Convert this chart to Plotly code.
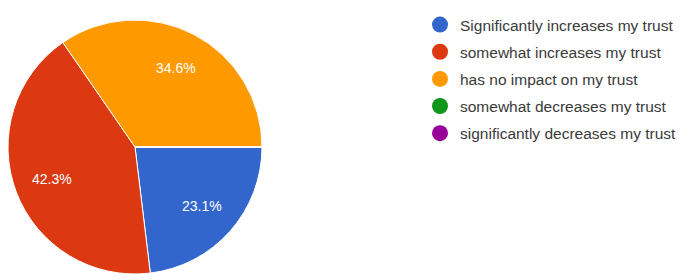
import math
import plotly.graph_objects as go

labels = ["Significantly increases my trust", "somewhat increases my trust",
          "has no impact on my trust", "somewhat decreases my trust",
          "significantly decreases my trust"]
counts = [6, 11, 9, 0, 0]
colors = ["#3366CC", "#DC3912", "#FF9900", "#109618", "#990099"]

# page body has an 8px margin; work in figure coordinates
OFF = 8
W, H = 689 - OFF, 280 - OFF
cx, cy, r = 135 - OFF, 147 - OFF, 127
start_deg = 90  # first slice starts at 3 o'clock, clockwise

fig = go.Figure()
fig.add_trace(go.Pie(
    labels=labels, values=counts, sort=False, direction="clockwise", rotation=start_deg,
    marker=dict(colors=colors, line=dict(color="white", width=1)),
    textinfo="none", showlegend=False, hoverinfo="label+percent",
    domain=dict(x=[max(0, (cx - r) / W), (cx + r) / W],
                y=[(H - cy - r) / H, (H - cy + r) / H]),
))

# percentage labels placed at each slice's mid-angle
total = sum(counts)
cum = 0
for v in counts:
    if v > 0:
        mid = math.radians(start_deg + 360 * (cum + v / 2) / total)
        px = cx + 0.7 * r * math.sin(mid)
        py = cy - 0.7 * r * math.cos(mid)
        fig.add_annotation(x=px / W, y=1 - py / H, xref="paper", yref="paper",
                           xanchor="center", yanchor="middle",
                           text=f"{100 * v / total:.1f}%", showarrow=False,
                           font=dict(color="white", size=14, family="Liberation Sans, Arial"))
    cum += v

for i, (lab, col) in enumerate(zip(labels, colors)):
    fig.add_trace(go.Scatter(
        x=[None], y=[None], mode="markers", name=lab, legendgroup=f"g{i}",
        marker=dict(color=col, size=16, symbol="circle"),
    ))

fig.update_layout(
    width=W, height=H, margin=dict(l=0, r=0, t=0, b=0),
    paper_bgcolor="white", plot_bgcolor="white",
    xaxis=dict(visible=False), yaxis=dict(visible=False),
    legend=dict(x=(420 - OFF) / W, y=1, xanchor="left", yanchor="top",
                font=dict(family="Liberation Sans, Arial", size=15.5, color="#3a3a3a"),
                tracegroupgap=4, traceorder="grouped", bgcolor="rgba(0,0,0,0)"),
)
fig.write_html("out.html")
